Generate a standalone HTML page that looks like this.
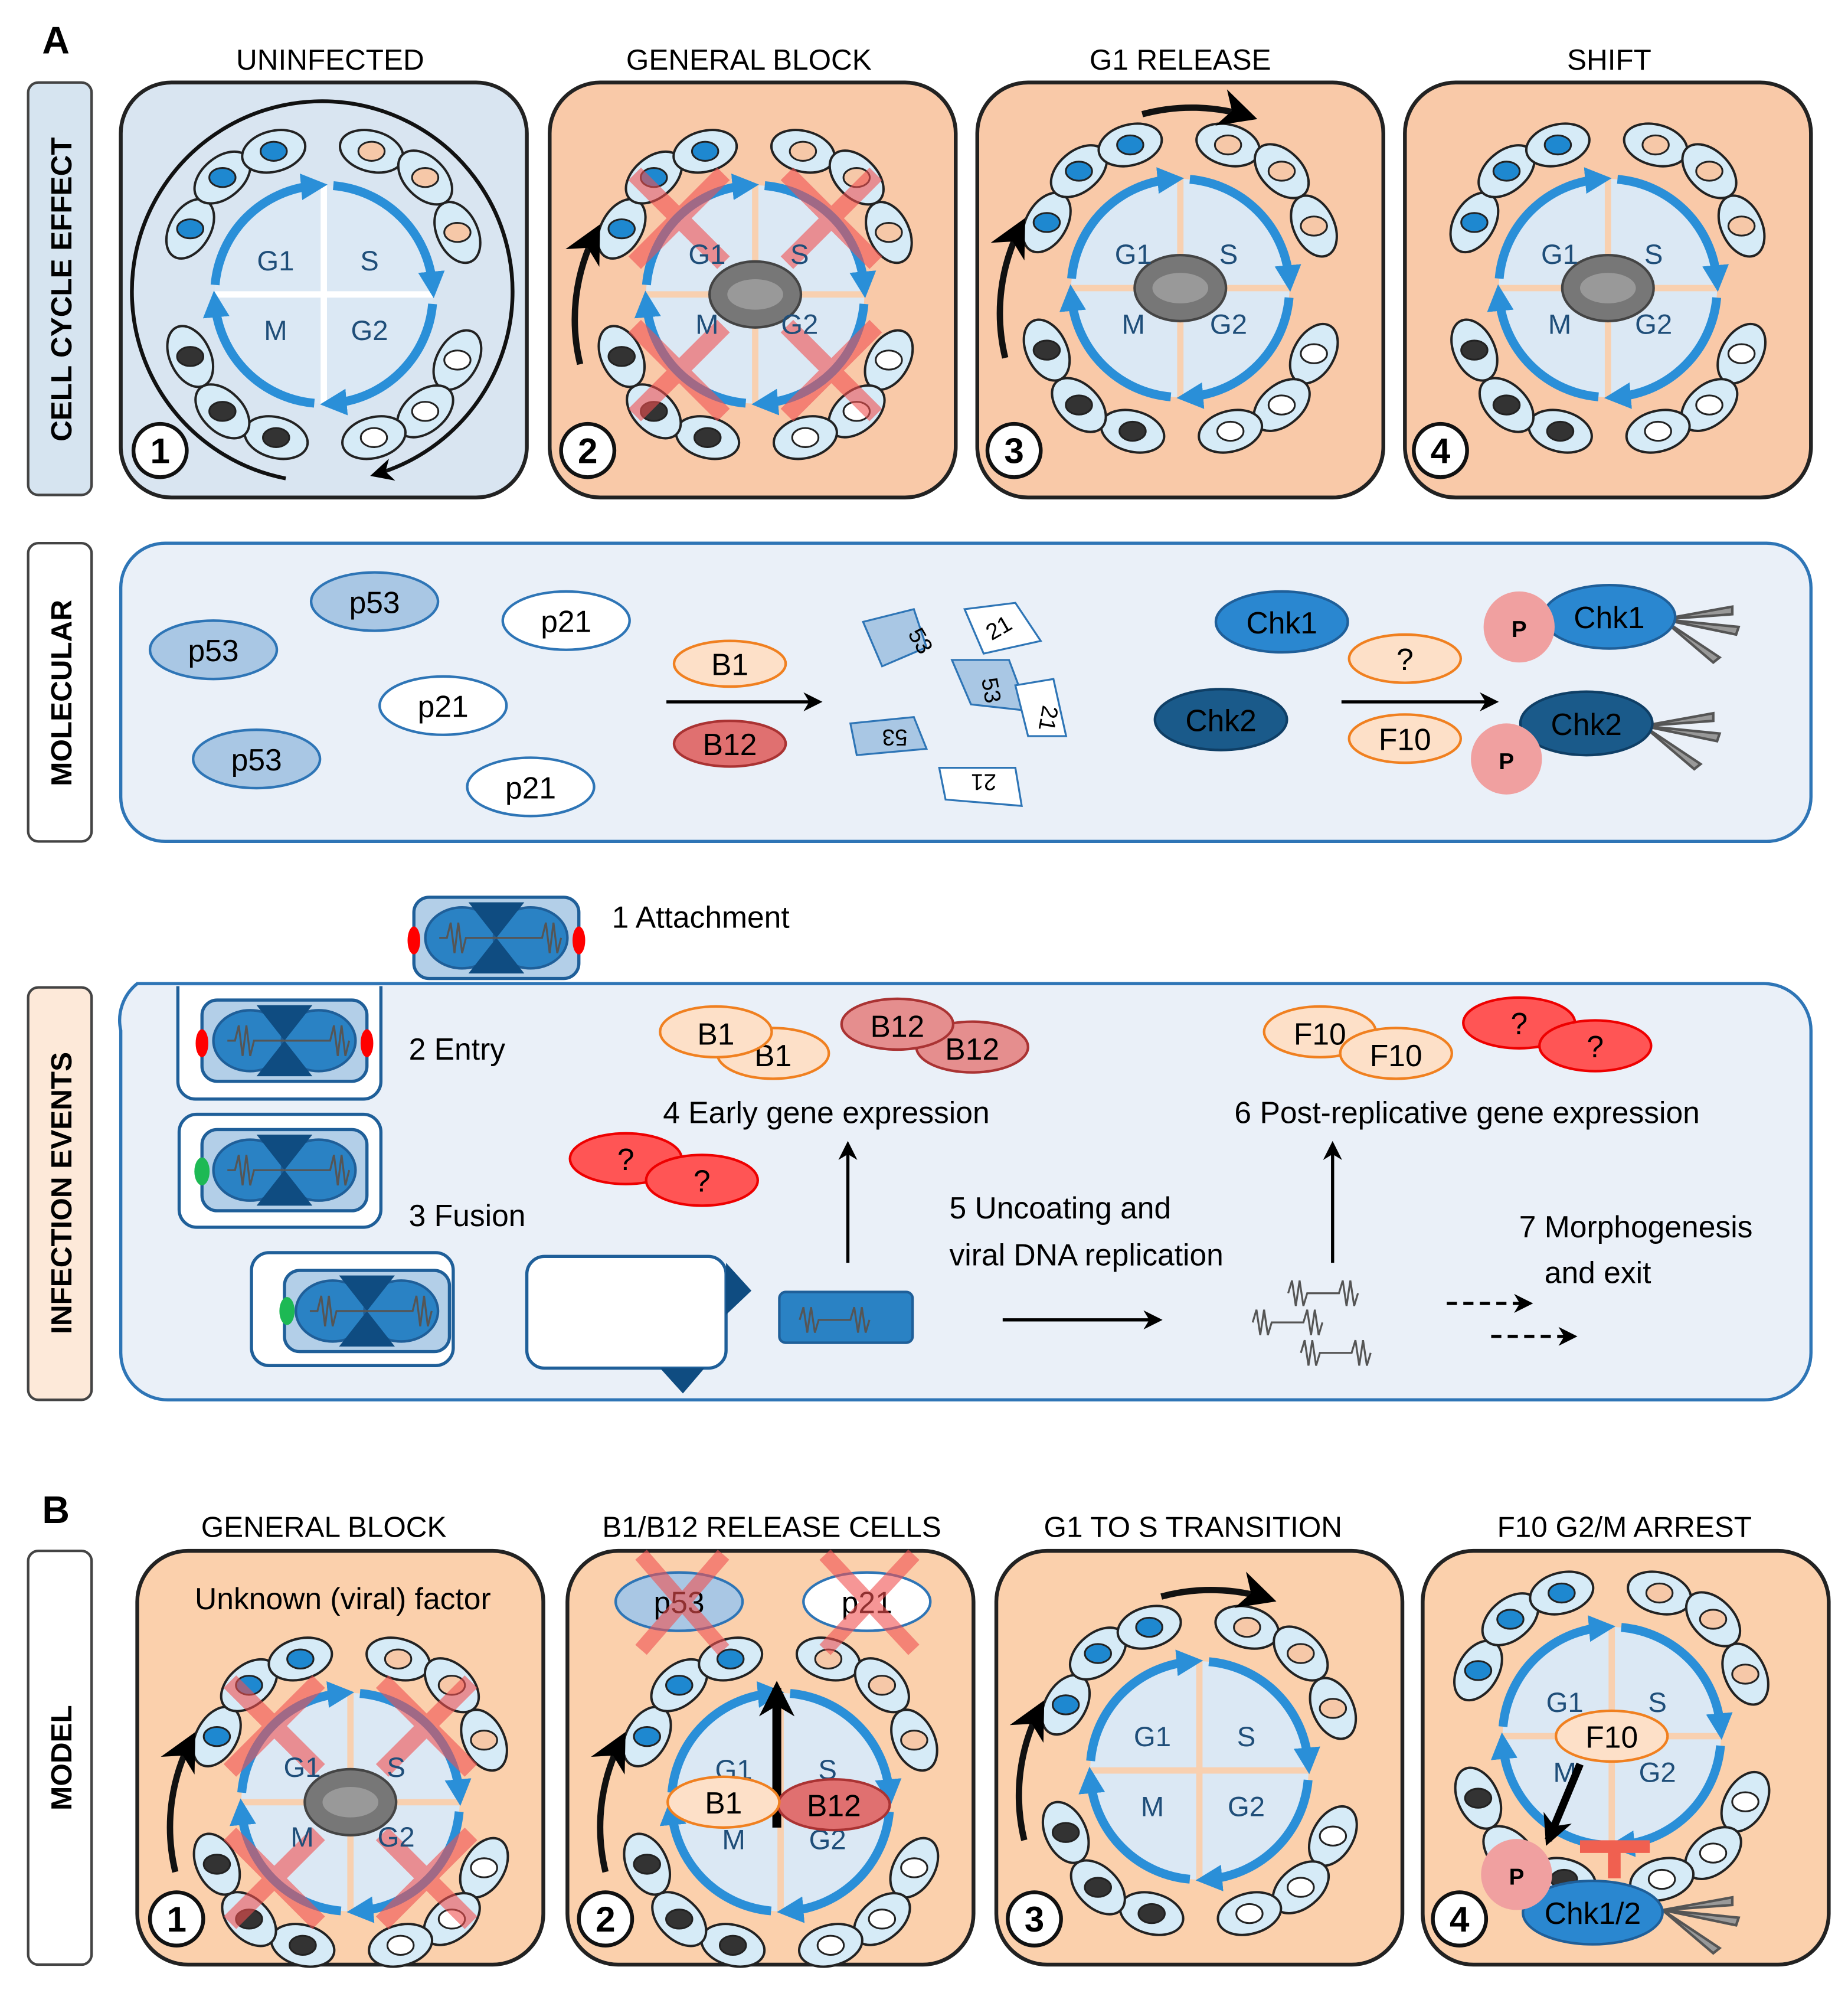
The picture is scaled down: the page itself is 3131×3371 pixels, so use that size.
<!DOCTYPE html>
<html><head><meta charset="utf-8"><style>
html,body{margin:0;padding:0;background:#fff}
svg{display:block}
text{font-family:"Liberation Sans",sans-serif}
</style></head><body>
<svg width="3131" height="3371" viewBox="0 0 1456 1568" xmlns="http://www.w3.org/2000/svg">
<defs>
<marker id="bh" viewBox="0 0 10 10" refX="5" refY="5" markerWidth="3" markerHeight="3" orient="auto"><path d="M0,0L10,5L0,10z" fill="#2a8fd8"/></marker>
<marker id="ka" viewBox="0 0 10 10" refX="8" refY="5" markerWidth="6" markerHeight="6" orient="auto"><path d="M0,0L10,5L0,10L3,5z" fill="#000"/></marker>
<marker id="kb" viewBox="0 0 10 10" refX="8" refY="5" markerWidth="4" markerHeight="4" orient="auto"><path d="M0,0L10,5L0,10L3,5z" fill="#000"/></marker>
<g id="cyc">
<circle r="86" fill="#dbe8f4"/>
<path d="M0,-86V86M-86,0H86" stroke="#fff" stroke-width="5"/>
<g fill="none" stroke="#2a8fd8" stroke-width="7" marker-end="url(#bh)">
<path d="M-85.7,-7.5A86,86 0 0 1 -7.5,-85.7"/>
<path d="M7.5,-85.7A86,86 0 0 1 85.7,-7.5"/>
<path d="M85.7,7.5A86,86 0 0 1 7.5,85.7"/>
<path d="M-7.5,85.7A86,86 0 0 1 -85.7,7.5"/>
</g></g>
<g id="cyc2">
<circle r="86" fill="#dbe8f4"/>
<path d="M0,-86V86M-86,0H86" stroke="#f8d0b0" stroke-width="5"/>
<g fill="none" stroke="#2a8fd8" stroke-width="7" marker-end="url(#bh)">
<path d="M-85.7,-7.5A86,86 0 0 1 -7.5,-85.7"/>
<path d="M7.5,-85.7A86,86 0 0 1 85.7,-7.5"/>
<path d="M85.7,7.5A86,86 0 0 1 7.5,85.7"/>
<path d="M-7.5,85.7A86,86 0 0 1 -85.7,7.5"/>
</g></g>
<g id="ring" stroke="#222" stroke-width="2" transform="scale(0.94)">
<g fill="#d6ebf7">
<ellipse cx="-112" cy="-55" rx="27" ry="17" transform="rotate(-60 -112 -55)"/>
<ellipse cx="-85" cy="-98" rx="27" ry="17" transform="rotate(-40 -85 -98)"/>
<ellipse cx="-42" cy="-120" rx="27" ry="17" transform="rotate(-15 -42 -120)"/>
<ellipse cx="40" cy="-120" rx="27" ry="17" transform="rotate(15 40 -120)"/>
<ellipse cx="85" cy="-98" rx="27" ry="17" transform="rotate(45 85 -98)"/>
<ellipse cx="112" cy="-52" rx="27" ry="17" transform="rotate(65 112 -52)"/>
<ellipse cx="112" cy="55" rx="27" ry="17" transform="rotate(-60 112 55)"/>
<ellipse cx="85" cy="98" rx="27" ry="17" transform="rotate(-40 85 98)"/>
<ellipse cx="42" cy="120" rx="27" ry="17" transform="rotate(-15 42 120)"/>
<ellipse cx="-40" cy="120" rx="27" ry="17" transform="rotate(15 -40 120)"/>
<ellipse cx="-85" cy="98" rx="27" ry="17" transform="rotate(45 -85 98)"/>
<ellipse cx="-112" cy="52" rx="27" ry="17" transform="rotate(65 -112 52)"/>
</g>
<g stroke-width="1.5">
<ellipse cx="-112" cy="-55" rx="11" ry="8" fill="#1e88d0"/>
<ellipse cx="-85" cy="-98" rx="11" ry="8" fill="#1e88d0"/>
<ellipse cx="-42" cy="-120" rx="11" ry="8" fill="#1e88d0"/>
<ellipse cx="40" cy="-120" rx="11" ry="8" fill="#f6c8a8"/>
<ellipse cx="85" cy="-98" rx="11" ry="8" fill="#f6c8a8"/>
<ellipse cx="112" cy="-52" rx="11" ry="8" fill="#f6c8a8"/>
<ellipse cx="112" cy="55" rx="11" ry="8" fill="#fff"/>
<ellipse cx="85" cy="98" rx="11" ry="8" fill="#fff"/>
<ellipse cx="42" cy="120" rx="11" ry="8" fill="#fff"/>
<ellipse cx="-40" cy="120" rx="11" ry="8" fill="#333"/>
<ellipse cx="-85" cy="98" rx="11" ry="8" fill="#333"/>
<ellipse cx="-112" cy="52" rx="11" ry="8" fill="#333"/>
</g></g>
<g id="vir"><ellipse rx="36" ry="26" fill="#777" stroke="#444" stroke-width="2"/><ellipse rx="22" ry="12" fill="#999"/></g>
<g id="xx" stroke="#f05050" stroke-opacity="0.6" stroke-width="14">
<path d="M-95,-25L-25,-95M-95,-95L-25,-25"/>
<path d="M95,-25L25,-95M95,-95L25,-25"/>
<path d="M-95,25L-25,95M-95,95L-25,25"/>
<path d="M95,25L25,95M95,95L25,25"/>
</g>
<g id="virion">
<rect x="-65" y="-32" width="130" height="64" rx="12" fill="#b3cfe8" stroke="#1f5f99" stroke-width="2.5"/>
<ellipse cx="-27" cy="0" rx="29" ry="24" fill="#2a82c4" stroke="#1f5f99" stroke-width="2"/>
<ellipse cx="27" cy="0" rx="29" ry="24" fill="#2a82c4" stroke="#1f5f99" stroke-width="2"/>
<path d="M-22,-28H22L0,0L22,28H-22L0,0z" fill="#0f4c81"/>
<path d="M-45,0h6l3,-12 3,24 3,-24 3,24 3,-12H36l3,-12 3,24 3,-24 3,24 3,-12" fill="none" stroke="#555" stroke-width="1.5"/>
</g>
<g id="dna" fill="none" stroke="#555" stroke-width="1.5"><path d="M0,0l3,-10 3,20 3,-20 3,20 3,-10H40l3,-10 3,20 3,-20 3,20 3,-10"/></g>
<g id="fan" stroke="#555" stroke-width="2" fill="#999"><path d="M0,0L55,-10L55,-4z M0,0L60,6L58,12z M0,0L45,30L40,34z"/></g>
</defs>

<text x="33" y="42" font-size="30" font-weight="bold">A</text>
<g font-size="23" text-anchor="middle">
<text x="260" y="55">UNINFECTED</text><text x="590" y="55">GENERAL BLOCK</text>
<text x="930" y="55">G1 RELEASE</text><text x="1268" y="55">SHIFT</text>
</g>
<rect x="22" y="65" width="50" height="325" rx="8" fill="#d6e4f0" stroke="#444" stroke-width="2"/>
<text transform="translate(56,228) rotate(-90)" font-size="23" font-weight="bold" text-anchor="middle">CELL CYCLE EFFECT</text>

<rect x="95" y="65" width="320" height="327" rx="40" fill="#d9e5f1" stroke="#222" stroke-width="3"/>
<rect x="433" y="65" width="320" height="327" rx="40" fill="#f9c9a8" stroke="#222" stroke-width="3"/>
<rect x="770" y="65" width="320" height="327" rx="40" fill="#f9c9a8" stroke="#222" stroke-width="3"/>
<rect x="1107" y="65" width="320" height="327" rx="40" fill="#f9c9a8" stroke="#222" stroke-width="3"/>

<g transform="translate(255,232)">
<path d="M-30,145A150,150 0 1 1 40,142" fill="none" stroke="#111" stroke-width="3" marker-end="url(#ka)"/>
<use href="#ring"/><use href="#cyc"/>
</g>
<g transform="translate(595,232)"><use href="#ring"/><use href="#cyc2"/><use href="#vir"/><use href="#xx"/>
<path d="M-138,55A150,150 0 0 1 -125,-50" fill="none" stroke="#111" stroke-width="5" marker-end="url(#ka)"/></g>
<g transform="translate(930,227)"><use href="#ring"/><use href="#cyc2"/><use href="#vir"/>
<path d="M-138,55A150,150 0 0 1 -125,-50" fill="none" stroke="#111" stroke-width="5" marker-end="url(#ka)"/>
<path d="M-30,-137A150,150 0 0 1 55,-135" fill="none" stroke="#111" stroke-width="5" marker-end="url(#ka)"/></g>
<g transform="translate(1267,227)"><use href="#ring"/><use href="#cyc2"/><use href="#vir"/></g>
<g font-size="22" fill="#1f4e79" text-anchor="middle">
<text x="217" y="213">G1</text><text x="291" y="213">S</text><text x="217" y="268">M</text><text x="291" y="268">G2</text>
<text x="557" y="208">G1</text><text x="630" y="208">S</text><text x="557" y="263">M</text><text x="630" y="263">G2</text>
<text x="893" y="208">G1</text><text x="968" y="208">S</text><text x="893" y="263">M</text><text x="968" y="263">G2</text>
<text x="1229" y="208">G1</text><text x="1303" y="208">S</text><text x="1229" y="263">M</text><text x="1303" y="263">G2</text>
</g>
<g font-size="28" font-weight="bold" text-anchor="middle">
<circle cx="126" cy="355" r="21" fill="#fff" stroke="#111" stroke-width="3"/><text x="126" y="365">1</text>
<circle cx="463" cy="355" r="21" fill="#fff" stroke="#111" stroke-width="3"/><text x="463" y="365">2</text>
<circle cx="799" cy="355" r="21" fill="#fff" stroke="#111" stroke-width="3"/><text x="799" y="365">3</text>
<circle cx="1135" cy="355" r="21" fill="#fff" stroke="#111" stroke-width="3"/><text x="1135" y="365">4</text>
</g>

<rect x="22" y="428" width="50" height="235" rx="8" fill="#fff" stroke="#444" stroke-width="2"/>
<text transform="translate(56,546) rotate(-90)" font-size="23" font-weight="bold" text-anchor="middle">MOLECULAR</text>
<rect x="95" y="428" width="1332" height="235" rx="35" fill="#eaf0f8" stroke="#2e75b6" stroke-width="2.5"/>
<g font-size="24" text-anchor="middle">
<g fill="#a9c7e4" stroke="#2e75b6" stroke-width="2">
<ellipse cx="168" cy="512" rx="50" ry="23"/><ellipse cx="295" cy="474" rx="50" ry="23"/><ellipse cx="202" cy="598" rx="50" ry="23"/></g>
<g fill="#fff" stroke="#2e75b6" stroke-width="2">
<ellipse cx="446" cy="489" rx="50" ry="23"/><ellipse cx="349" cy="556" rx="50" ry="23"/><ellipse cx="418" cy="620" rx="50" ry="23"/></g>
<text x="168" y="521">p53</text><text x="295" y="483">p53</text><text x="202" y="607">p53</text>
<text x="446" y="498">p21</text><text x="349" y="565">p21</text><text x="418" y="629">p21</text>
<ellipse cx="575" cy="523" rx="44" ry="18" fill="#fde0c8" stroke="#f08020" stroke-width="2"/><text x="575" y="532">B1</text>
<ellipse cx="575" cy="586" rx="44" ry="18" fill="#e07070" stroke="#a33" stroke-width="2"/><text x="575" y="595">B12</text>
<line x1="525" y1="553" x2="645" y2="553" stroke="#000" stroke-width="2.5" marker-end="url(#ka)"/>
<g stroke="#2e75b6" stroke-width="1.5">
<path d="M680,490l40,-10 10,30 -35,15z" fill="#a9c7e4"/>
<path d="M760,480l40,-5 20,30 -45,10z" fill="#fff"/>
<path d="M750,520l45,0 15,40 -45,-5z" fill="#a9c7e4"/>
<path d="M800,540l30,-5 10,45 -30,0z" fill="#fff"/>
<path d="M670,570l50,-5 10,25 -55,5z" fill="#a9c7e4"/>
<path d="M740,605l60,0 5,30 -60,-5z" fill="#fff"/>
</g>
<g font-size="18"><text x="720" y="508" transform="rotate(60 720 508)">53</text><text x="790" y="500" transform="rotate(-30 790 500)">21</text>
<text x="775" y="545" transform="rotate(80 775 545)">53</text><text x="820" y="565" transform="rotate(100 820 565)">21</text>
<text x="705" y="585" transform="rotate(180 705 580)">53</text><text x="775" y="620" transform="rotate(180 775 615)">21</text></g>
<ellipse cx="1010" cy="490" rx="52" ry="24" fill="#2a87d0" stroke="#1f5f99" stroke-width="2"/><text x="1010" y="499">Chk1</text>
<ellipse cx="962" cy="567" rx="52" ry="24" fill="#1a5a8a" stroke="#0f3f66" stroke-width="2"/><text x="962" y="576">Chk2</text>
<ellipse cx="1107" cy="519" rx="44" ry="19" fill="#fde0c8" stroke="#f08020" stroke-width="2"/><text x="1107" y="528">?</text>
<ellipse cx="1107" cy="582" rx="44" ry="19" fill="#fde0c8" stroke="#f08020" stroke-width="2"/><text x="1107" y="591">F10</text>
<line x1="1057" y1="553" x2="1178" y2="553" stroke="#000" stroke-width="2.5" marker-end="url(#ka)"/>
<use href="#fan" x="1310" y="488"/><use href="#fan" x="1295" y="572"/>
<ellipse cx="1268" cy="486" rx="52" ry="25" fill="#2a87d0" stroke="#1f5f99" stroke-width="2"/><text x="1268" y="495">Chk1</text>
<ellipse cx="1250" cy="570" rx="52" ry="25" fill="#1a5a8a" stroke="#0f3f66" stroke-width="2"/><text x="1250" y="579">Chk2</text>
<circle cx="1197" cy="494" r="28" fill="#f0a0a0"/><text x="1197" y="502" font-size="18" font-weight="bold">P</text>
<circle cx="1187" cy="598" r="28" fill="#f0a0a0"/><text x="1187" y="606" font-size="18" font-weight="bold">P</text>
</g>

<rect x="22" y="778" width="50" height="325" rx="8" fill="#fde9d9" stroke="#444" stroke-width="2"/>
<text transform="translate(56,940) rotate(-90)" font-size="23" font-weight="bold" text-anchor="middle">INFECTION EVENTS</text>
<path d="M108,775H1390a37,37 0 0 1 37,37V1066a37,37 0 0 1 -37,37H132a37,37 0 0 1 -37,-37V812a37,37 0 0 1 13,-37z" fill="#eaf0f8" stroke="#2e75b6" stroke-width="2.5"/>
<use href="#virion" x="391" y="739"/>
<ellipse cx="326" cy="741" rx="5" ry="11" fill="red"/><ellipse cx="456" cy="741" rx="5" ry="11" fill="red"/>
<path d="M140,777V852a14,14 0 0 0 14,14H286a14,14 0 0 0 14,-14V777" fill="#fff" stroke="#1f5f99" stroke-width="2.5"/>
<use href="#virion" x="224" y="820"/>
<ellipse cx="159" cy="822" rx="5" ry="11" fill="red"/><ellipse cx="289" cy="822" rx="5" ry="11" fill="red"/>
<rect x="141" y="878" width="159" height="89" rx="14" fill="#fff" stroke="#1f5f99" stroke-width="2.5"/>
<use href="#virion" x="224" y="922"/>
<ellipse cx="159" cy="923" rx="6" ry="11" fill="#1db954"/>
<rect x="198" y="987" width="159" height="89" rx="14" fill="#fff" stroke="#1f5f99" stroke-width="2.5"/>
<use href="#virion" x="289" y="1033"/>
<ellipse cx="226" cy="1033" rx="6" ry="11" fill="#1db954"/>
<rect x="415" y="990" width="157" height="88" rx="14" fill="#fff" stroke="#1f5f99" stroke-width="2.5"/>
<path d="M572,995L592,1017L572,1036z M520,1078H555L538,1098z" fill="#0f4c81"/>
<rect x="614" y="1018" width="105" height="40" rx="5" fill="#2a82c4" stroke="#1f5f99" stroke-width="2"/>
<use href="#dna" x="630" y="1040"/>
<line x1="668" y1="995" x2="668" y2="902" stroke="#000" stroke-width="2.5" marker-end="url(#ka)"/>
<line x1="1050" y1="995" x2="1050" y2="902" stroke="#000" stroke-width="2.5" marker-end="url(#ka)"/>
<line x1="790" y1="1040" x2="913" y2="1040" stroke="#000" stroke-width="2.5" marker-end="url(#ka)"/>
<use href="#dna" x="1015" y="1019"/><use href="#dna" x="987" y="1042"/><use href="#dna" x="1025" y="1066"/>
<line x1="1140" y1="1027" x2="1205" y2="1027" stroke="#000" stroke-width="2.5" stroke-dasharray="8,5" marker-end="url(#ka)"/>
<line x1="1175" y1="1053" x2="1240" y2="1053" stroke="#000" stroke-width="2.5" stroke-dasharray="8,5" marker-end="url(#ka)"/>
<g font-size="24">
<text x="482" y="731">1 Attachment</text><text x="322" y="835">2 Entry</text><text x="322" y="966">3 Fusion</text>
<text x="651" y="885" text-anchor="middle">4 Early gene expression</text>
<text x="748" y="960">5 Uncoating and</text><text x="748" y="997">viral DNA replication</text>
<text x="1156" y="885" text-anchor="middle">6 Post-replicative gene expression</text>
<text x="1197" y="975">7 Morphogenesis</text><text x="1217" y="1011">and exit</text>
</g>
<g font-size="24" text-anchor="middle">
<ellipse cx="609" cy="830" rx="44" ry="20" fill="#fde0c8" stroke="#f08020" stroke-width="2"/><text x="609" y="840">B1</text>
<ellipse cx="564" cy="813" rx="44" ry="20" fill="#fde0c8" stroke="#f08020" stroke-width="2"/><text x="564" y="823">B1</text>
<ellipse cx="766" cy="825" rx="44" ry="20" fill="#e58e8e" stroke="#a33" stroke-width="2"/>
<ellipse cx="707" cy="807" rx="44" ry="20" fill="#e58e8e" stroke="#a33" stroke-width="2"/><text x="707" y="817">B12</text><text x="766" y="835">B12</text>
<ellipse cx="493" cy="913" rx="44" ry="20" fill="#f55" stroke="#e00" stroke-width="2"/><text x="493" y="922">?</text>
<ellipse cx="553" cy="930" rx="44" ry="20" fill="#f55" stroke="#e00" stroke-width="2"/><text x="553" y="939">?</text>
<ellipse cx="1040" cy="813" rx="44" ry="20" fill="#fde0c8" stroke="#f08020" stroke-width="2"/><text x="1040" y="823">F10</text>
<ellipse cx="1100" cy="830" rx="44" ry="20" fill="#fde0c8" stroke="#f08020" stroke-width="2"/><text x="1100" y="840">F10</text>
<ellipse cx="1197" cy="806" rx="44" ry="20" fill="#f55" stroke="#e00" stroke-width="2"/><text x="1197" y="815">?</text>
<ellipse cx="1257" cy="824" rx="44" ry="20" fill="#f55" stroke="#e00" stroke-width="2"/><text x="1257" y="833">?</text>
</g>

<text x="33" y="1200" font-size="30" font-weight="bold">B</text>
<g font-size="23" text-anchor="middle">
<text x="255" y="1211">GENERAL BLOCK</text><text x="608" y="1211">B1/B12 RELEASE CELLS</text>
<text x="940" y="1211">G1 TO S TRANSITION</text><text x="1280" y="1211">F10 G2/M ARREST</text>
</g>
<rect x="22" y="1222" width="50" height="326" rx="8" fill="#fff" stroke="#444" stroke-width="2"/>
<text transform="translate(56,1385) rotate(-90)" font-size="23" font-weight="bold" text-anchor="middle">MODEL</text>
<rect x="108" y="1222" width="320" height="326" rx="40" fill="#fbd0ac" stroke="#222" stroke-width="3"/>
<rect x="447" y="1222" width="320" height="326" rx="40" fill="#fbd0ac" stroke="#222" stroke-width="3"/>
<rect x="785" y="1222" width="320" height="326" rx="40" fill="#fbd0ac" stroke="#222" stroke-width="3"/>
<rect x="1121" y="1222" width="320" height="326" rx="40" fill="#fbd0ac" stroke="#222" stroke-width="3"/>
<text x="270" y="1268" font-size="24" text-anchor="middle">Unknown (viral) factor</text>

<g transform="translate(276,1420)"><use href="#ring"/><use href="#cyc2"/><use href="#vir"/><use href="#xx"/>
<path d="M-138,55A150,150 0 0 1 -125,-50" fill="none" stroke="#111" stroke-width="5" marker-end="url(#ka)"/></g>
<g transform="translate(615,1420)"><use href="#ring"/><use href="#cyc2"/>
<path d="M-138,55A150,150 0 0 1 -125,-50" fill="none" stroke="#111" stroke-width="5" marker-end="url(#ka)"/></g>
<g transform="translate(945,1395)"><use href="#ring"/><use href="#cyc2"/>
<path d="M-138,55A150,150 0 0 1 -125,-50" fill="none" stroke="#111" stroke-width="5" marker-end="url(#ka)"/>
<path d="M-30,-137A150,150 0 0 1 55,-135" fill="none" stroke="#111" stroke-width="5" marker-end="url(#ka)"/></g>
<g transform="translate(1270,1368)"><use href="#ring"/><use href="#cyc2"/></g>
<g font-size="22" fill="#1f4e79" text-anchor="middle">
<text x="238" y="1400">G1</text><text x="312" y="1400">S</text><text x="238" y="1455">M</text><text x="312" y="1455">G2</text>
<text x="578" y="1402">G1</text><text x="652" y="1402">S</text><text x="578" y="1457">M</text><text x="652" y="1457">G2</text>
<text x="908" y="1376">G1</text><text x="982" y="1376">S</text><text x="908" y="1431">M</text><text x="982" y="1431">G2</text>
<text x="1233" y="1349">G1</text><text x="1306" y="1349">S</text><text x="1233" y="1404">M</text><text x="1306" y="1404">G2</text>
</g>
<g font-size="24" text-anchor="middle">
<ellipse cx="535" cy="1262" rx="50" ry="23" fill="#a9c7e4" stroke="#2e75b6" stroke-width="2"/><text x="535" y="1271">p53</text>
<ellipse cx="683" cy="1262" rx="50" ry="23" fill="#fff" stroke="#2e75b6" stroke-width="2"/><text x="683" y="1271">p21</text>
<g stroke="#f05050" stroke-opacity="0.6" stroke-width="12"><path d="M505,1225L570,1300M570,1225L505,1300M650,1225L720,1300M720,1225L650,1300"/></g>
<line x1="612" y1="1440" x2="612" y2="1330" stroke="#000" stroke-width="7" marker-end="url(#kb)"/>
<ellipse cx="657" cy="1422" rx="44" ry="20" fill="#e07070" stroke="#a33" stroke-width="2"/><text x="657" y="1431">B12</text>
<ellipse cx="570" cy="1420" rx="44" ry="20" fill="#fde0c8" stroke="#f08020" stroke-width="2"/><text x="570" y="1429">B1</text>
<ellipse cx="1270" cy="1368" rx="44" ry="20" fill="#fde0c8" stroke="#f08020" stroke-width="2"/><text x="1270" y="1377">F10</text>
<path d="M1245,1455h55" stroke="#f06050" stroke-width="10"/><path d="M1272,1455v25" stroke="#f06050" stroke-width="10"/>
<use href="#fan" x="1310" y="1505"/>
<ellipse cx="1255" cy="1507" rx="55" ry="25" fill="#2a87d0" stroke="#1f5f99" stroke-width="2"/><text x="1255" y="1516">Chk1/2</text>
<circle cx="1195" cy="1477" r="28" fill="#f0a0a0"/><text x="1195" y="1485" font-size="18" font-weight="bold">P</text>
<line x1="1245" y1="1390" x2="1220" y2="1450" stroke="#000" stroke-width="6" marker-end="url(#kb)"/>
</g>
<g font-size="28" font-weight="bold" text-anchor="middle">
<circle cx="139" cy="1512" r="21" fill="#fff" stroke="#111" stroke-width="3"/><text x="139" y="1522">1</text>
<circle cx="477" cy="1512" r="21" fill="#fff" stroke="#111" stroke-width="3"/><text x="477" y="1522">2</text>
<circle cx="815" cy="1512" r="21" fill="#fff" stroke="#111" stroke-width="3"/><text x="815" y="1522">3</text>
<circle cx="1150" cy="1512" r="21" fill="#fff" stroke="#111" stroke-width="3"/><text x="1150" y="1522">4</text>
</g>
</svg>
</body></html>
